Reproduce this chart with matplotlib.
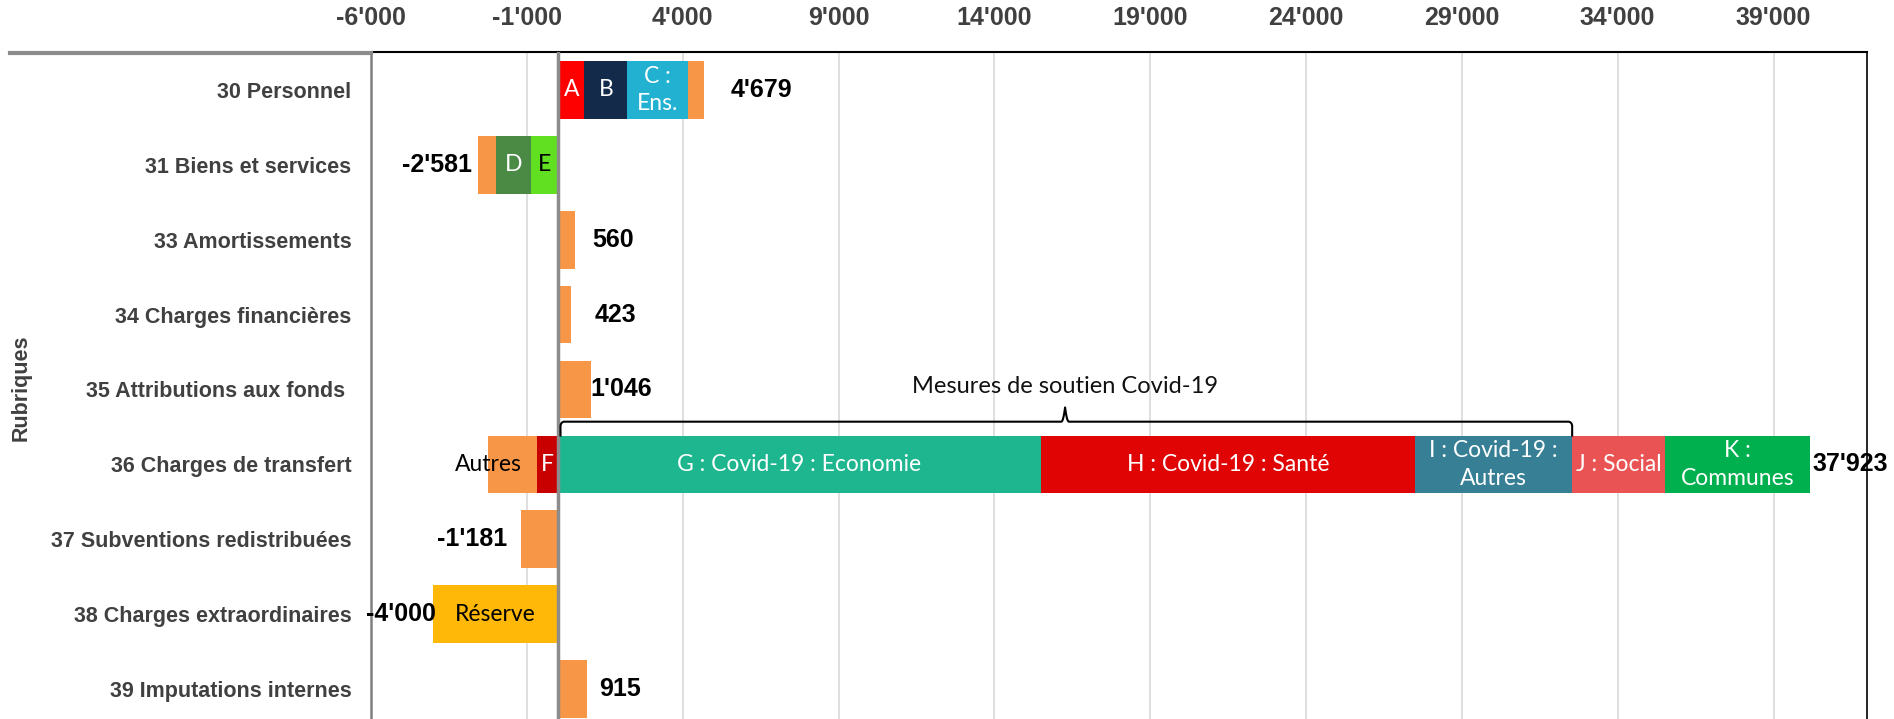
import numpy as np
import matplotlib
matplotlib.use("Agg")
import matplotlib.pyplot as plt
from matplotlib.lines import Line2D

# --- data -------------------------------------------------------------
categories = [
    "30 Personnel",
    "31 Biens et services",
    "33 Amortissements",
    "34 Charges financières",
    "35 Attributions aux fonds ",
    "36 Charges de transfert",
    "37 Subventions redistribuées",
    "38 Charges extraordinaires",
    "39 Imputations internes",
]
totals = [4679, -2581, 560, 423, 1046, 37923, -1181, -4000, 915]

# detailed parts of some rows (rest of each total is "Autres", orange)
segment_rows = [0, 0, 0, 1, 1, 5, 5, 5, 5, 5, 5, 7]
segment_labels = ["A", "B", "C :\nEns.", "E", "D", "F",
                  "G : Covid-19 : Economie", "H : Covid-19 : Santé",
                  "I : Covid-19 :\nAutres", "J : Social", "K :\nCommunes",
                  "Réserve"]
segment_values = [850, 1370, 1960, -870, -1110, -680,
                  15490, 12015, 5035, 2987, 4630, -4000]
covid_segments = ["G : Covid-19 : Economie", "H : Covid-19 : Santé",
                  "I : Covid-19 :\nAutres"]
covid_label = "Mesures de soutien Covid-19"
other_label = "Autres"

x_ticks = list(range(-6000, 40000, 5000))

# --- style ------------------------------------------------------------
segment_colors = ["#FF0000", "#142A4B", "#22B1D1", "#61E022", "#4A8A45",
                  "#C80000", "#1DB68F", "#E00404", "#377F95", "#EA5353",
                  "#00B04F", "#FFB808"]
segment_text = ["white", "white", "white", "black", "white", "white",
                "white", "white", "white", "white", "white", "black"]
other_color = "#F79646"
label_pad = [19, 4, 12, 17, 0, 2, 10, -2, 9]  # points between bar end and total label
bar_h = 0.77
sans = ["Liberation Sans", "DejaVu Sans"]
inbar = ["Lato", "DejaVu Sans"]


def fmt(v):
    return f"{v:,}".replace(",", "'")


def main():
    fig = plt.figure(figsize=(18.94, 7.19), dpi=100)
    ax = fig.add_axes([371 / 1894, -0.0104, (1867 - 371) / 1894, 0.9374])

    pos_end = np.zeros(len(categories))
    neg_end = np.zeros(len(categories))
    seg_left = {}

    for row, lab, val, col, tcol in zip(segment_rows, segment_labels, segment_values,
                                        segment_colors, segment_text):
        left = pos_end[row] if val > 0 else neg_end[row]
        ax.barh(row, val, left=left, height=bar_h, color=col, zorder=2)
        seg_left[lab] = left
        ax.text(left + val / 2, row, lab, ha="center", va="center", color=tcol,
                fontsize=16.5, family=inbar, linespacing=1.4, zorder=4)
        if val > 0:
            pos_end[row] += val
        else:
            neg_end[row] += val

    # remaining part of each total ("Autres")
    seg_sum = np.zeros(len(categories))
    for row, val in zip(segment_rows, segment_values):
        seg_sum[row] += val
    others = np.array(totals) - seg_sum
    for row, val in enumerate(others):
        if val == 0:
            continue
        left = pos_end[row] if val > 0 else neg_end[row]
        ax.barh(row, val, left=left, height=bar_h, color=other_color, zorder=2)
        if val > 0:
            pos_end[row] += val
        else:
            neg_end[row] += val
        if row == 5:
            ax.text(left + val, row, other_label, ha="center", va="center",
                    color="black", fontsize=16.5, family=inbar, zorder=4)

    # total labels
    for row, tot in enumerate(totals):
        if tot > 0:
            ax.annotate(fmt(tot), (pos_end[row], row), xytext=(label_pad[row], 0),
                        textcoords="offset points", ha="left", va="center",
                        fontsize=18, fontweight="bold", family=sans,
                        annotation_clip=False, zorder=5)
        else:
            ax.annotate(fmt(tot), (neg_end[row], row), xytext=(-label_pad[row], 0),
                        textcoords="offset points", ha="right", va="center",
                        fontsize=18, fontweight="bold", family=sans,
                        annotation_clip=False, zorder=5)

    # brace over the Covid-19 measures
    b_row = segment_rows[segment_labels.index(covid_segments[0])]
    x0 = seg_left[covid_segments[0]] + 80
    x1 = seg_left[covid_segments[-1]] + segment_values[segment_labels.index(covid_segments[-1])]
    xm = (seg_left[covid_segments[0]] + x1) / 2
    y_bar = b_row - bar_h / 2
    y_line = b_row - 0.57
    y_tip = b_row - 0.76
    r = 0.06
    rx = 120
    t = np.linspace(0, np.pi / 2, 8)
    ramp = np.linspace(0, 1, 8)
    bx = np.concatenate([
        [x0], x0 + rx * (1 - np.cos(t)),
        [xm - rx], xm - rx + rx * ramp,
        xm + rx * ramp, [x1 - rx],
        x1 - rx * (1 - np.cos(t[::-1])), [x1]])
    by = np.concatenate([
        [y_bar], y_line + r * (1 - np.sin(t)),
        [y_line], y_line - (y_line - y_tip) * ramp ** 2,
        y_line - (y_line - y_tip) * ramp[::-1] ** 2, [y_line],
        y_line + r * (1 - np.sin(t[::-1])), [y_bar]])
    ax.plot(bx, by, color="black", lw=1.5, zorder=4, clip_on=False)
    ax.text(xm, b_row - 1.04, covid_label, ha="center", va="center",
            fontsize=17, family=inbar, color="#111111", zorder=4)

    # axes
    ax.set_xlim(-6000, 42000)
    ax.set_ylim(len(categories) - 0.5, -0.5)
    ax.xaxis.tick_top()
    ax.set_xticks(x_ticks)
    ax.set_xticklabels([fmt(v) for v in x_ticks], fontsize=18, fontweight="bold",
                       family=sans, color="#404040")
    ax.set_yticks(range(len(categories)))
    ax.set_yticklabels(categories, fontsize=15.5, fontweight="bold",
                       family=sans, color="#404040")
    ax.tick_params(axis="x", length=0, pad=16)
    ax.tick_params(axis="y", length=0, pad=14)
    ax.grid(axis="x", color="#d9d9d9", lw=1.2, zorder=0)
    ax.set_axisbelow(True)
    ax.axvline(0, color="#8c8c8c", lw=2.5, zorder=3)

    ax.spines["bottom"].set_visible(False)
    ax.spines["top"].set_color("black")
    ax.spines["top"].set_linewidth(1.5)
    ax.spines["right"].set_color("black")
    ax.spines["right"].set_linewidth(1.2)
    ax.spines["left"].set_color("#808080")
    ax.spines["left"].set_linewidth(1.8)

    fig.add_artist(Line2D([10 / 1894, 371 / 1894], [1 - 52.5 / 719] * 2,
                          color="#8c8c8c", lw=3, transform=fig.transFigure))
    fig.text(21 / 1894, 1 - 388 / 719, "Rubriques", rotation=90, ha="center",
             va="center", fontsize=15.5, fontweight="bold", family=sans,
             color="#404040")

    fig.savefig("out.png", dpi=100)
    plt.close(fig)


if __name__ == "__main__":
    main()
